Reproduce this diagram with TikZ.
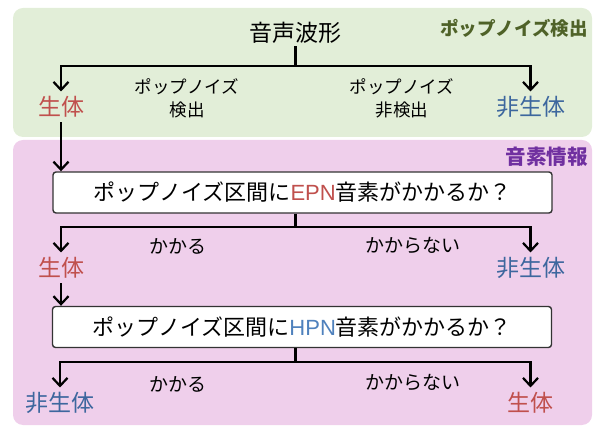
\documentclass[tikz,border=0pt]{standalone}
\usepackage{fontspec}
\setmainfont{Noto Sans CJK JP}
\newfontfamily\latinsf{Liberation Sans}
\usetikzlibrary{arrows.meta,calc}
\definecolor{greenbg}{HTML}{E2EED8}
\definecolor{pinkbg}{HTML}{EFCFEB}
\definecolor{myred}{HTML}{C0504D}
\definecolor{myblue}{HTML}{3D679E}
\definecolor{hpnblue}{HTML}{4F81BD}
\definecolor{olivetxt}{HTML}{4F6228}
\definecolor{purptxt}{HTML}{7030A0}
\definecolor{boxline}{HTML}{333333}
\tikzset{
  arr/.style={line width=2.2pt, -{Straight Barb[length=8pt,width=15pt]}},
  ln/.style={line width=2.2pt},
  res/.style={font=\fontsize{23}{26}\selectfont, inner sep=0pt, outer sep=4pt,
              text height=20.2pt, text depth=2.8pt},
  lbl/.style={font=\fontsize{17.5}{23}\selectfont, align=center, inner sep=0pt},
  ans/.style={font=\fontsize{19}{23}\selectfont, inner sep=0pt},
  qbox/.style={draw=boxline, line width=1.4pt, fill=white, rounded corners=3pt,
               minimum width=499pt, minimum height=41pt, inner sep=0pt,
               font=\fontsize{22}{26}\selectfont},
  panel/.style={rounded corners=10pt},
  ptitle/.style={anchor=east, inner sep=0pt}
}
\begin{document}
\begin{tikzpicture}[x=1pt,y=-1pt]
\useasboundingbox (0,0) rectangle (597,427);
% panels
\fill[greenbg, panel] (13,8) rectangle (592,137);
\fill[pinkbg, panel] (13,140) rectangle (592,425);
\node[ptitle, text=olivetxt, font=\bfseries\fontsize{18.5}{22}\selectfont] (t1) at (588,28) {ポップノイズ検出};
\node[ptitle, text=purptxt, font=\bfseries\fontsize{20.5}{24}\selectfont] (t2) at (588,157) {音素情報};

% stage 1
\node[res, outer sep=2pt, text=black] (wave) at (295.5,33) {音声波形};
\coordinate (j1) at (295.5,66);
\node[res, text=myred] (live1) at (61,107) {生体};
\node[res, text=myblue] (nlive1) at (530.5,107) {非生体};
\draw[ln] (wave.south) -- (j1);
\draw[arr] (j1) -| (live1.north);
\draw[arr] (j1) -| (nlive1.north);
\node[lbl] (l1) at (187,98.5) {ポップノイズ\\検出};
\node[lbl] (l2) at (402,98.5) {ポップノイズ\\非検出};

% stage 2
\node[qbox] (box1) at (302.5,192.5) {ポップノイズ区間に{\color{myred}\latinsf EPN}音素がかかるか？};
\draw[arr] (live1.south) -- (live1.south |- box1.north);
\coordinate (j2) at (295.5,227);
\node[res, text=myred] (live2) at (61,268) {生体};
\node[res, text=myblue] (nlive2) at (530.5,268) {非生体};
\draw[ln] (box1.south -| j2) -- (j2);
\draw[arr] (j2) -| (live2.north);
\draw[arr] (j2) -| (nlive2.north);
\node[ans] (a1) at (177.5,246) {かかる};
\node[ans] (a2) at (413,246) {かからない};

% stage 3
\node[qbox] (box2) at (302,327) {ポップノイズ区間に{\color{hpnblue}\latinsf HPN}音素がかかるか？};
\draw[arr] (live2.south) -- (live2.south |- box2.north);
\coordinate (j3) at (295.5,362);
\node[res, text=myblue] (nlive3) at (60,403) {非生体};
\node[res, text=myred] (live3) at (530.5,403) {生体};
\draw[ln] (box2.south -| j3) -- (j3);
\draw[arr] (j3) -| (nlive3.north);
\draw[arr] (j3) -| (live3.north);
\node[ans] (a3) at (177.5,384) {かかる};
\node[ans] (a4) at (413,383) {かからない};
\end{tikzpicture}
\end{document}
